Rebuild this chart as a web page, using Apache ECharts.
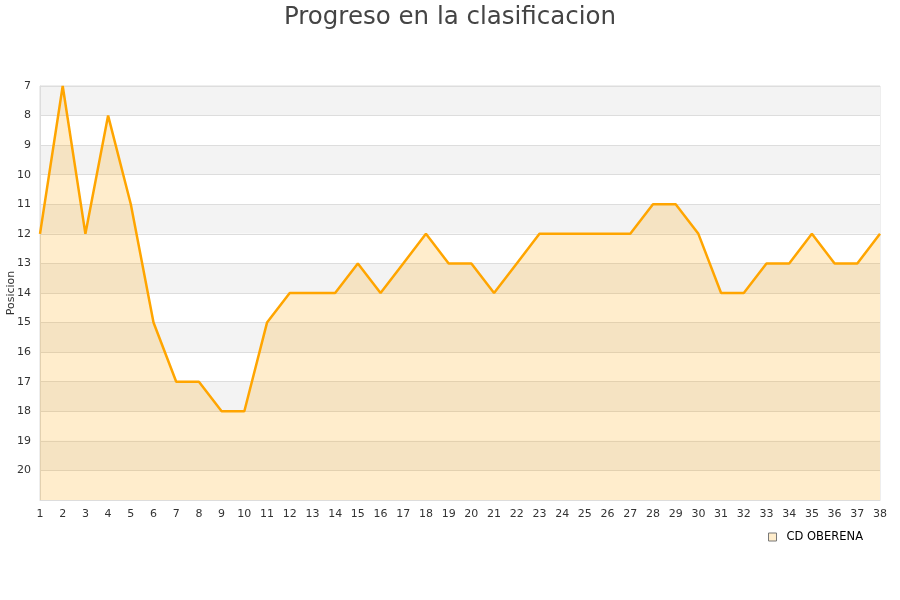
<!DOCTYPE html>
<html>
<head>
<meta charset="utf-8">
<script src="https://cdn.jsdelivr.net/npm/echarts@6/dist/echarts.min.js"></script>
<style>
  html, body { margin: 0; padding: 0; background: #fff; }
  #main { width: 900px; height: 600px; }
</style>
</head>
<body>
<div id="main"></div>
<script>
var jornadas = [];
for (var j = 1; j <= 38; j++) { jornadas.push(String(j)); }

var posiciones = [12, 7, 12, 8, 11, 15, 17, 17, 18, 18,
                  15, 14, 14, 14, 13, 14, 13, 12, 13, 13,
                  14, 13, 12, 12, 12, 12, 12, 11, 11, 12,
                  14, 14, 13, 13, 12, 13, 13, 12];

var teamName = 'CD OBERENA';
var lineColor = '#ffa500';

var chart = echarts.init(document.getElementById('main'));

chart.setOption({
    backgroundColor: '#fff',
    animation: false,
    title: {
        text: 'Progreso en la clasificacion',
        left: 'center',
        top: 0,
        textStyle: {
            fontFamily: 'DejaVu Sans',
            fontSize: 24.5,
            fontWeight: 'normal',
            color: '#444'
        }
    },
    legend: {
        right: 32,
        top: 526,
        itemWidth: 8,
        itemHeight: 8,
        icon: 'rect',
        textStyle: {
            fontFamily: 'DejaVu Sans',
            fontSize: 11.5,
            color: '#000',
            padding: [0, 0, 0, 5]
        },
        data: [{
            name: teamName,
            itemStyle: { color: '#ffedcc', borderColor: '#777', borderWidth: 1 }
        }]
    },
    grid: {
        left: 40,
        right: 20,
        top: 86,
        bottom: 100,
        outerBoundsMode: 'none',
        containLabel: false,
        show: true,
        borderColor: '#ddd',
        borderWidth: 1
    },
    xAxis: {
        type: 'category',
        data: jornadas,
        boundaryGap: false,
        axisLine: { lineStyle: { color: '#ddd' } },
        axisTick: { show: false },
        axisLabel: {
            interval: 0,
            fontFamily: 'DejaVu Sans',
            fontSize: 11,
            color: '#333',
            margin: 9
        },
        splitLine: { show: false }
    },
    yAxis: {
        type: 'value',
        inverse: true,
        min: 7,
        max: 21,
        interval: 1,
        name: 'Posicion',
        nameLocation: 'middle',
        nameGap: 23,
        nameMoveOverlap: false,
        nameTextStyle: { fontFamily: 'DejaVu Sans', fontSize: 11, color: '#333' },
        axisLine: { show: true, lineStyle: { color: '#ddd' } },
        axisTick: { show: false },
        axisLabel: {
            fontFamily: 'DejaVu Sans',
            fontSize: 11,
            color: '#333',
            margin: 9,
            formatter: function (v) { return v === 21 ? '' : v; }
        },
        splitLine: { show: true, lineStyle: { color: '#ddd' } },
        splitArea: {
            show: true,
            areaStyle: { color: ['#f3f3f3', '#ffffff'] }
        }
    },
    series: [{
        name: teamName,
        type: 'line',
        data: posiciones,
        symbol: 'none',
        lineStyle: { color: lineColor, width: 2.5 },
        itemStyle: { color: lineColor },
        areaStyle: { color: 'rgba(255,165,0,0.2)', opacity: 1, origin: 'end' }
    }]
});
</script>
</body>
</html>
